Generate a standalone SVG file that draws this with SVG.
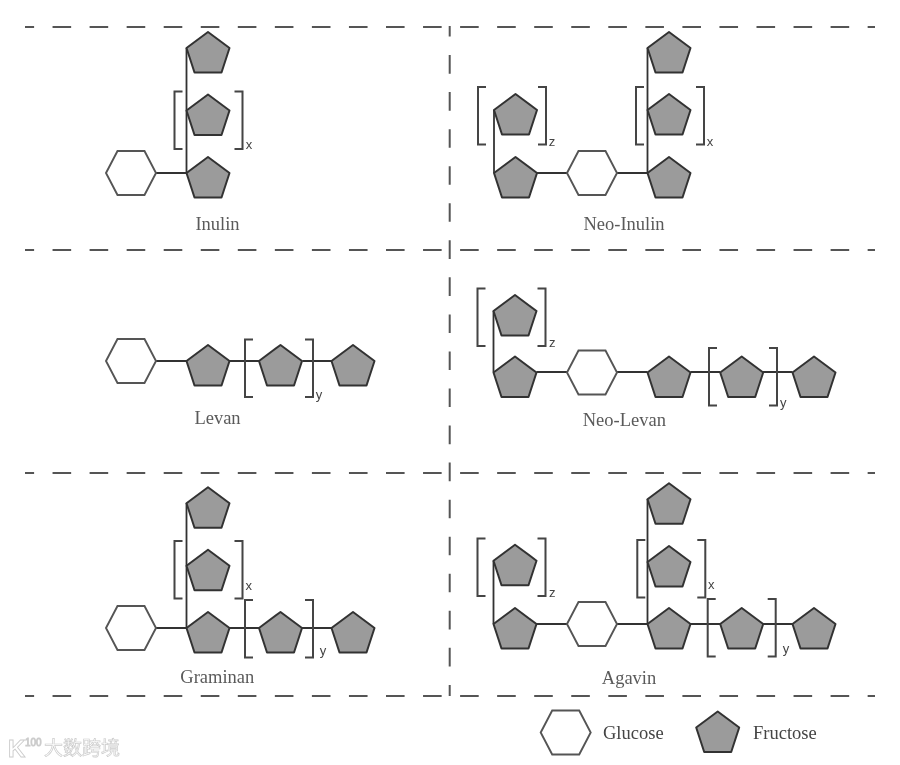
<svg xmlns="http://www.w3.org/2000/svg" width="900" height="765" viewBox="0 0 900 765">
<style>
.bg{fill:#fff}
.div{fill:none;stroke:#555;stroke-width:2;stroke-dasharray:18.6 18.45;stroke-dashoffset:9.5}
.c{fill:none;stroke:#333;stroke-width:1.8}
.b{fill:none;stroke:#444;stroke-width:2}
.pent{fill:#9b9b9b;stroke:#333;stroke-width:2;stroke-linejoin:round}
.hex{fill:#fff;stroke:#555;stroke-width:1.9}
.t{font-family:"Liberation Serif",serif;font-size:18.500px;fill:#5a5a5a;text-anchor:middle}
.leg{font-family:"Liberation Serif",serif;font-size:18.500px;fill:#444}
.s{font-family:"Liberation Sans",sans-serif;font-size:13px;fill:#444;text-anchor:middle}
.wm{font-family:"Noto Sans CJK SC",sans-serif;font-size:19px;fill:#fff;stroke:#ccc;stroke-width:.7}
.wl{font-family:"Liberation Sans",sans-serif;fill:#fff;stroke:#ccc;stroke-width:.9}
</style>
<defs>
<filter id="soft" x="0" y="0" width="100%" height="100%"><feGaussianBlur stdDeviation="0.4"/></filter>
<polygon id="P" points="0,-16 21.500,0 13.500,24.500 -13.500,24.500 -21.500,0"/>
<polygon id="H" points="-25,0 -13.500,-22 13.500,-22 25,0 13.500,22 -13.500,22"/>
<path id="BR" d="M8,0H0V57.500H8M60,0H68V57.500H60"/>
</defs>
<rect class="bg" width="900" height="765"/>
<g filter="url(#soft)">
<g id="dividers">
<path class="div" d="M25,27H875M25,250H875M25,473H875M25,696H875"/>
<path class="div" d="M449.700,26V696" style="stroke-dashoffset:8"/>
</g>
<g id="connectors">
<path class="c" d="M186.500,48V173M156,173H186.500"/>
<path class="c" d="M494,110V173M537,173H567M617,173H647.500M647.500,48V173"/>
<path class="c" d="M156,361H186.500M229.500,361H259.500M302.500,361H331.500"/>
<path class="c" d="M493.500,311V372M536.500,372H567M617,372H647.500M690.500,372H720M763,372H792.500"/>
<path class="c" d="M186.500,503V628M156,628H186.500M229.500,628H259M302,628H331.500"/>
<path class="c" d="M493.500,561V624M536.500,624H567M617,624H647.500M647.500,499V624M690.500,624H720M763,624H792.500"/>
</g>
<g id="brackets">
<use href="#BR" class="b" transform="translate(174.500,91.500)"/>
<use href="#BR" class="b" transform="translate(478,87)"/>
<use href="#BR" class="b" transform="translate(636,87)"/>
<use href="#BR" class="b" transform="translate(245,339.500)"/>
<use href="#BR" class="b" transform="translate(477.500,288.500)"/>
<use href="#BR" class="b" transform="translate(709,348)"/>
<use href="#BR" class="b" transform="translate(174.500,541)"/>
<use href="#BR" class="b" transform="translate(245,600)"/>
<use href="#BR" class="b" transform="translate(477.500,538.500)"/>
<use href="#BR" class="b" transform="translate(637.300,540)"/>
<use href="#BR" class="b" transform="translate(707.700,599)"/>
</g>
<g id="inulin">
<use href="#H" class="hex" x="131" y="173"/>
<use href="#P" class="pent" x="208" y="48"/>
<use href="#P" class="pent" x="208" y="110.500"/>
<use href="#P" class="pent" x="208" y="173"/>
<text class="s" x="249" y="149">x</text>
<text class="t" x="217.500" y="230">Inulin</text>
</g>
<g id="neo-inulin">
<use href="#P" class="pent" x="515.500" y="110"/>
<use href="#P" class="pent" x="515.500" y="173"/>
<use href="#H" class="hex" x="592" y="173"/>
<use href="#P" class="pent" x="669" y="48"/>
<use href="#P" class="pent" x="669" y="110"/>
<use href="#P" class="pent" x="669" y="173"/>
<text class="s" x="552" y="146">z</text>
<text class="s" x="710" y="146">x</text>
<text class="t" x="624" y="230">Neo-Inulin</text>
</g>
<g id="levan">
<use href="#H" class="hex" x="131" y="361"/>
<use href="#P" class="pent" x="208" y="361"/>
<use href="#P" class="pent" x="280.500" y="361"/>
<use href="#P" class="pent" x="353" y="361"/>
<text class="s" x="319" y="399">y</text>
<text class="t" x="217.500" y="424">Levan</text>
</g>
<g id="neo-levan">
<use href="#P" class="pent" x="515" y="311"/>
<use href="#P" class="pent" x="515" y="372.500"/>
<use href="#H" class="hex" x="592" y="372.500"/>
<use href="#P" class="pent" x="669" y="372.500"/>
<use href="#P" class="pent" x="741.700" y="372.500"/>
<use href="#P" class="pent" x="814" y="372.500"/>
<text class="s" x="552.300" y="347">z</text>
<text class="s" x="783.300" y="407">y</text>
<text class="t" x="624.300" y="426">Neo-Levan</text>
</g>
<g id="graminan">
<use href="#H" class="hex" x="131" y="628"/>
<use href="#P" class="pent" x="208" y="503.300"/>
<use href="#P" class="pent" x="208" y="565.700"/>
<use href="#P" class="pent" x="208" y="628"/>
<use href="#P" class="pent" x="280.500" y="628"/>
<use href="#P" class="pent" x="353" y="628"/>
<text class="s" x="248.700" y="590">x</text>
<text class="s" x="323" y="655">y</text>
<text class="t" x="217.300" y="683">Graminan</text>
</g>
<g id="agavin">
<use href="#P" class="pent" x="515" y="560.700"/>
<use href="#P" class="pent" x="515" y="624"/>
<use href="#H" class="hex" x="592" y="624"/>
<use href="#P" class="pent" x="669" y="499.300"/>
<use href="#P" class="pent" x="669" y="562"/>
<use href="#P" class="pent" x="669" y="624"/>
<use href="#P" class="pent" x="741.700" y="624"/>
<use href="#P" class="pent" x="814" y="624"/>
<text class="s" x="552.300" y="597">z</text>
<text class="s" x="711.300" y="589">x</text>
<text class="s" x="786" y="653">y</text>
<text class="t" x="629" y="684">Agavin</text>
</g>
<g id="legend-glucose">
<use href="#H" class="hex" x="565.700" y="732.500"/>
<text class="leg" x="603" y="739">Glucose</text>
</g>
<g id="legend-fructose">
<use href="#P" class="pent" x="717.700" y="727.500"/>
<text class="leg" x="753" y="739">Fructose</text>
</g>
<g id="watermark">
<text class="wl" x="8" y="757" font-size="24" font-weight="bold">K</text>
<text class="wl" x="25" y="746" font-size="10">100</text>
<text class="wm" x="44" y="755">大数跨境</text>
</g>
</g>
</svg>
